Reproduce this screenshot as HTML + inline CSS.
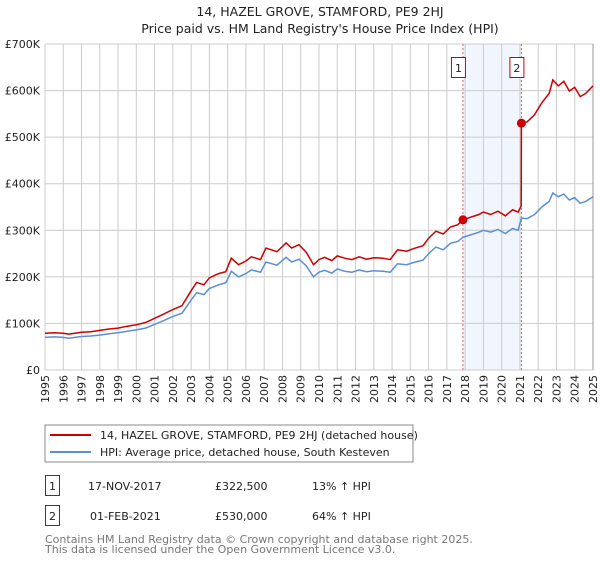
<!DOCTYPE html>
<html><head><meta charset="utf-8"><style>
body{margin:0;background:#fff;font-family:"DejaVu Sans","Liberation Sans",sans-serif;}
svg text{font-family:"DejaVu Sans","Liberation Sans",sans-serif;}
</style></head><body>
<svg id="c" width="600" height="560" viewBox="0 0 600 560" xmlns="http://www.w3.org/2000/svg">
<text x="320" y="16" font-size="12.5" text-anchor="middle" fill="#222">14, HAZEL GROVE, STAMFORD, PE9 2HJ</text>
<text x="320" y="33" font-size="12.5" text-anchor="middle" fill="#222">Price paid vs. HM Land Registry's House Price Index (HPI)</text>
<g id="plot"></g>
<g>
<rect x="45" y="425" width="368" height="37" fill="#fff" stroke="#888"/>
<line x1="50" y1="435" x2="91" y2="435" stroke="#cc0000" stroke-width="2"/>
<text x="100" y="439" font-size="11" fill="#222">14, HAZEL GROVE, STAMFORD, PE9 2HJ (detached house)</text>
<line x1="50" y1="452" x2="91" y2="452" stroke="#5b8fd4" stroke-width="2"/>
<text x="100" y="456" font-size="11" fill="#222">HPI: Average price, detached house, South Kesteven</text>
</g>
<g font-size="11" fill="#222">
<rect x="45.5" y="475.5" width="14" height="20" fill="#fff" stroke="#cc0000"/>
<text x="52.5" y="490" text-anchor="middle">1</text>
<text x="88" y="490">17-NOV-2017</text>
<text x="215" y="490">£322,500</text>
<text x="312" y="490">13% ↑ HPI</text>
<rect x="45.5" y="505.5" width="14" height="20" fill="#fff" stroke="#cc0000"/>
<text x="52.5" y="520" text-anchor="middle">2</text>
<text x="90" y="520">01-FEB-2021</text>
<text x="215" y="520">£530,000</text>
<text x="312" y="520">64% ↑ HPI</text>
</g>
<text x="45" y="543" font-size="11" fill="#777">Contains HM Land Registry data © Crown copyright and database right 2025.</text>
<text x="45" y="553" font-size="11" fill="#777">This data is licensed under the Open Government Licence v3.0.</text>
</svg>
<script>
const yTicks=[0,100,200,300,400,500,600,700];
const yTickLabels=["£0","£100K","£200K","£300K","£400K","£500K","£600K","£700K"];
const xTicks=[1995,1996,1997,1998,1999,2000,2001,2002,2003,2004,2005,2006,2007,2008,2009,2010,2011,2012,2013,2014,2015,2016,2017,2018,2019,2020,2021,2022,2023,2024,2025];
const hpiT=[1995,1995.5,1996,1996.3,1997,1997.5,1998,1998.5,1999,1999.5,2000,2000.5,2001,2001.5,2002,2002.5,2003,2003.3,2003.7,2004,2004.5,2004.9,2005.2,2005.6,2006,2006.3,2006.8,2007.1,2007.7,2008.2,2008.5,2008.9,2009.3,2009.7,2010,2010.3,2010.7,2011,2011.4,2011.8,2012.2,2012.6,2013,2013.5,2013.9,2014.3,2014.8,2015.2,2015.7,2016,2016.4,2016.8,2017.2,2017.6,2017.88,2018.3,2018.7,2019,2019.4,2019.8,2020.2,2020.6,2020.9,2021.08,2021.4,2021.8,2022.2,2022.6,2022.8,2023.1,2023.4,2023.7,2024.0,2024.3,2024.6,2025];
const hpiV=[70,71,70,68,72,73,75,78,80,83,86,90,98,106,115,122,150,166,162,175,183,187,212,200,207,215,210,232,225,242,232,238,224,200,210,214,208,217,212,210,215,211,213,212,210,228,226,231,236,250,264,258,272,276,285,290,295,300,296,302,293,304,300,326,325,334,350,362,380,372,378,365,370,358,362,372];
const redT=[1995,1995.5,1996,1996.3,1997,1997.5,1998,1998.5,1999,1999.5,2000,2000.5,2001,2001.5,2002,2002.5,2003,2003.3,2003.7,2004,2004.5,2004.9,2005.2,2005.6,2006,2006.3,2006.8,2007.1,2007.7,2008.2,2008.5,2008.9,2009.3,2009.7,2010,2010.3,2010.7,2011,2011.4,2011.8,2012.2,2012.6,2013,2013.5,2013.9,2014.3,2014.8,2015.2,2015.7,2016,2016.4,2016.8,2017.2,2017.6,2017.88,2018.3,2018.7,2019,2019.4,2019.8,2020.2,2020.6,2020.9,2021.07,2021.08,2021.4,2021.8,2022.2,2022.6,2022.8,2023.1,2023.4,2023.7,2024.0,2024.3,2024.6,2025];
const redV=[79,80,79,77,81,82,85,88,90,94,97,102,111,120,130,138,170,188,183,198,207,211,240,226,234,243,237,262,254,273,262,269,253,226,237,242,235,245,240,237,243,238,241,240,237,258,255,261,267,283,298,292,307,312,322.5,328,333,339,334,341,331,344,339,352,530,533,548,574,594,623,610,620,599,607,587,594,610];
const saleT=[2017.88,2021.08];
const saleV=[322.5,530];
const saleLabels=["1","2"];

const NS="http://www.w3.org/2000/svg";
const X0=45,X1=593,Y0=370,Y1=44;
const xs=t=>X0+(t-1995)/(2025-1995)*(X1-X0);
const ys=v=>Y0-v/700*(Y0-Y1);
const g=document.getElementById('plot');
function mk(tag,attrs){const e=document.createElementNS(NS,tag);for(const k in attrs)e.setAttribute(k,attrs[k]);g.appendChild(e);return e;}
let sh=mk('rect',{x:xs(saleT[0]),y:Y1,width:xs(saleT[1])-xs(saleT[0]),height:Y0-Y1,fill:'#eef3fc',opacity:0.8});


yTicks.forEach((v,i)=>{
 const l=mk('line',{x1:X0,x2:X1,y1:ys(v),y2:ys(v),stroke:'#ccc','stroke-width':1});
 
 
 const t=mk('text',{x:40,y:ys(v)+4,'font-size':11,'text-anchor':'end',fill:'#222'});
 t.textContent=yTickLabels[i];
 
 
});
xTicks.forEach(v=>{
 const l=mk('line',{x1:xs(v),x2:xs(v),y1:Y1,y2:Y0,stroke:'#ccc','stroke-width':1});
 
 
 const t=mk('text',{x:0,y:0,'font-size':11,'text-anchor':'end',fill:'#222',transform:`translate(${xs(v)+4},${Y0+5}) rotate(-90)`});
 t.textContent=v;
 
 
});
const ax=mk('line',{x1:X1,x2:X1,y1:Y1,y2:Y0,stroke:'#999'});


saleT.forEach((t,i)=>{
 const l=mk('line',{x1:xs(t),x2:xs(t),y1:Y1,y2:Y0,stroke:'#e06060','stroke-dasharray':'2,2','stroke-width':1});
 
 
 const r=mk('rect',{x:xs(t)-11.5,y:57.5,width:14,height:20,fill:'#fff',stroke:'#cc0000'});
 
 
 const tx=mk('text',{x:xs(t)-4.5,y:72,'font-size':11,'text-anchor':'middle',fill:'#222'});
 tx.textContent=saleLabels[i];
 
 
});
const hp=mk('path',{d:hpiT.map((t,i)=>(i?'L':'M')+xs(t).toFixed(1)+','+ys(hpiV[i]).toFixed(1)).join(''),fill:'none',stroke:'#5b8fd4','stroke-width':1.5});


const rp=mk('path',{d:redT.map((t,i)=>(i?'L':'M')+xs(t).toFixed(1)+','+ys(redV[i]).toFixed(1)).join(''),fill:'none',stroke:'#cc0000','stroke-width':1.5});


saleT.forEach((t,i)=>{
 const c=mk('circle',{cx:xs(t),cy:ys(saleV[i]),r:4.5,fill:'#cc0000'});
 
 
});
</script>
</body></html>
